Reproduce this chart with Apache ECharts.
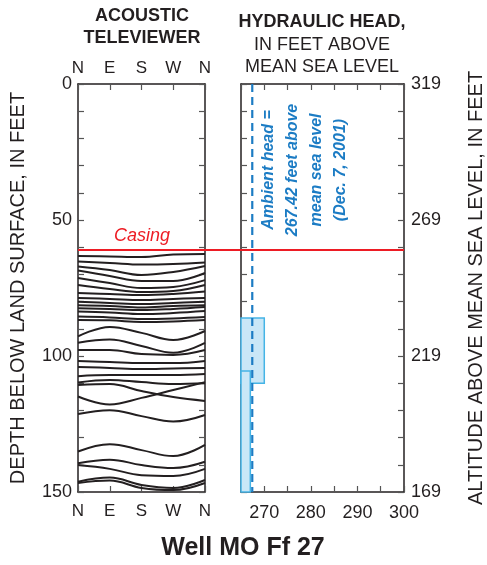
<!DOCTYPE html>
<html><head><meta charset="utf-8">
<script src="https://cdn.jsdelivr.net/npm/echarts@6/dist/echarts.min.js"></script>
<style>html,body{margin:0;padding:0;background:#fff}#c{width:487px;height:565px}</style>
</head><body><div id="c"></div>
<script>
// ---------------- data ----------------
const compassLabels = ['N', 'E', 'S', 'W', 'N'];
const azimuths = [0, 90, 180, 270, 360];
// depth (ft) of each fracture trace at N, E, S, W, N
const fractureDepths = [
  [63.2, 63.4, 63.6, 62.7, 62.5],
  [65.3, 65.8, 66.4, 66.2, 65.6],
  [67.1, 68.4, 70.2, 69.1, 66.9],
  [68.6, 70.6, 72.4, 72.4, 69.5],
  [71.3, 73.2, 75.0, 74.6, 72.1],
  [73.9, 75.4, 76.5, 76.1, 73.9],
  [76.8, 77.2, 77.6, 77.2, 76.3],
  [78.7, 79.0, 79.4, 79.0, 78.7],
  [80.1, 80.5, 80.9, 80.5, 80.1],
  [81.3, 81.6, 82.2, 81.6, 81.3],
  [82.4, 82.7, 83.1, 82.7, 82.0],
  [83.6, 84.0, 84.6, 84.2, 83.5],
  [85.5, 85.8, 86.4, 86.2, 85.7],
  [86.8, 86.9, 87.5, 87.3, 86.8],
  [92.8, 89.3, 91.5, 94.1, 90.8],
  [95.1, 93.9, 96.3, 98.8, 95.2],
  [97.8, 97.8, 99.3, 99.6, 97.8],
  [101.8, 102.2, 102.6, 102.6, 101.8],
  [104.0, 104.4, 104.8, 104.6, 104.4],
  [107.4, 107.0, 107.0, 107.0, 106.6],
  [109.7, 108.8, 109.6, 110.3, 110.0],
  [110.7, 110.3, 112.9, 115.1, 116.5],
  [114.9, 117.8, 115.4, 112.5, 109.6],
  [121.3, 119.9, 122.1, 124.1, 121.7],
  [135.1, 132.4, 134.6, 136.8, 132.7],
  [139.4, 138.1, 140.1, 141.2, 138.9],
  [140.1, 141.5, 143.8, 144.1, 141.5],
  [146.2, 144.7, 147.4, 148.5, 145.6],
  [146.7, 145.8, 148.5, 149.3, 146.7]
];
const depthLabels = [0, 50, 100, 150];
const altitudeLabels = [319, 269, 219, 169];
const headLabels = [270, 280, 290, 300];
const casingDepth = 61;
const ambientHead = 267.42;
// hydraulic-head test intervals
const intervalTop = [86, 105.5];
const intervalBottom = [110, 150];
const intervalHead = [270, 267.0];

// ---------------- chart ----------------
const FONT = '"Liberation Sans", Arial, Helvetica, sans-serif';
const INK = '#231f20';
const chart = echarts.init(document.getElementById('c'), null, {renderer: 'canvas'});

const axisLineStyle = {show: true, onZero: false, lineStyle: {color: INK, width: 1.5}};
const tickStyle = {show: true, inside: true, length: 6, lineStyle: {color: '#555', width: 1.2}};
const labelStyle = {color: INK, fontFamily: FONT, fontSize: 18};

const fractureSeries = fractureDepths.map(function (d, k) {
  return {
    type: 'line', xAxisIndex: 0, yAxisIndex: 0, name: 'fracture' + k,
    data: azimuths.map(function (a, i) { return [a, d[i]]; }),
    smooth: 0.4, symbol: 'none', silent: true, z: 3,
    lineStyle: {color: INK, width: 2}
  };
});

function compassFmt(v) { return compassLabels[Math.round(v / 90)]; }

chart.setOption({
  animation: false,
  grid: [
    {left: 78, top: 84, width: 127, height: 408},
    {left: 241, top: 84, width: 164, height: 408}
  ],
  xAxis: [
    {gridIndex: 0, type: 'value', position: 'bottom', min: 0, max: 360, interval: 90,
      axisLine: axisLineStyle, axisTick: tickStyle, splitLine: {show: false},
      axisLabel: Object.assign({}, labelStyle, {fontSize: 17, margin: 11, formatter: compassFmt})},
    {gridIndex: 0, type: 'value', position: 'top', min: 0, max: 360, interval: 90,
      axisLine: axisLineStyle, axisTick: tickStyle, splitLine: {show: false},
      axisLabel: Object.assign({}, labelStyle, {fontSize: 17, margin: 7, formatter: compassFmt})},
    {gridIndex: 1, type: 'value', position: 'bottom', min: 265, max: 300, interval: 5,
      axisLine: axisLineStyle, axisTick: tickStyle, splitLine: {show: false},
      axisLabel: Object.assign({}, labelStyle, {margin: 12,
        formatter: function (v) { return headLabels.indexOf(v) >= 0 ? String(v) : ''; }})},
    {gridIndex: 1, type: 'value', position: 'top', min: 265, max: 300, interval: 5,
      axisLine: axisLineStyle, axisTick: tickStyle, splitLine: {show: false},
      axisLabel: {show: false}}
  ],
  yAxis: [
    {gridIndex: 0, type: 'value', position: 'left', inverse: true, min: 0, max: 150, interval: 10,
      axisLine: axisLineStyle, axisTick: tickStyle, splitLine: {show: false},
      name: 'DEPTH BELOW LAND SURFACE, IN FEET', nameLocation: 'middle', nameRotate: 90, nameGap: 50,
      nameTextStyle: {color: INK, fontFamily: FONT, fontSize: 20},
      axisLabel: Object.assign({}, labelStyle, {margin: 6,
        formatter: function (v) { return depthLabels.indexOf(v) >= 0 ? String(v) : ''; }})},
    {gridIndex: 0, type: 'value', position: 'right', inverse: true, min: 0, max: 150, interval: 10,
      axisLine: axisLineStyle, axisTick: tickStyle, splitLine: {show: false}, axisLabel: {show: false}},
    {gridIndex: 1, type: 'value', position: 'left', inverse: true, min: 0, max: 150, interval: 10,
      axisLine: axisLineStyle, axisTick: tickStyle, splitLine: {show: false}, axisLabel: {show: false}},
    {gridIndex: 1, type: 'value', position: 'right', inverse: true, min: 0, max: 150, interval: 10,
      axisLine: axisLineStyle, axisTick: tickStyle, splitLine: {show: false},
      name: 'ALTITUDE ABOVE MEAN SEA LEVEL, IN FEET', nameLocation: 'middle', nameRotate: 90, nameGap: 62,
      nameTextStyle: {color: INK, fontFamily: FONT, fontSize: 20},
      axisLabel: Object.assign({}, labelStyle, {margin: 7,
        formatter: function (v) { return (v % 50 === 0) ? String(altitudeLabels[v / 50]) : ''; }})}
  ],
  series: fractureSeries.concat([
    {
      type: 'custom', xAxisIndex: 2, yAxisIndex: 2, z: 2, silent: true,
      data: intervalHead.map(function (h, i) { return [h, intervalTop[i], intervalBottom[i]]; }),
      renderItem: function (params, api) {
        const p0 = api.coord([265, api.value(1)]);
        const p1 = api.coord([api.value(0), api.value(2)]);
        return {type: 'rect',
          shape: {x: p0[0], y: p0[1], width: p1[0] - p0[0], height: p1[1] - p0[1]},
          style: {fill: '#c9e7f7', stroke: '#45b4e6', lineWidth: 1.5}};
      }
    },
    {
      type: 'line', xAxisIndex: 2, yAxisIndex: 2, z: 4, silent: true, symbol: 'none',
      data: [[ambientHead, 0], [ambientHead, 150]],
      lineStyle: {color: '#1c7cc4', width: 2.2, type: [8, 5]}
    }
  ])
});

const yCas = chart.convertToPixel({yAxisIndex: 0}, casingDepth);
const xLeft = chart.convertToPixel({xAxisIndex: 0}, 0);
const xRight = chart.convertToPixel({xAxisIndex: 2}, 300);

chart.setOption({
  graphic: [
    {type: 'text', x: 142, y: 16, style: {text: 'ACOUSTIC', font: 'bold 18px ' + FONT, fill: INK, textAlign: 'center', textVerticalAlign: 'middle'}},
    {type: 'text', x: 142, y: 38, style: {text: 'TELEVIEWER', font: 'bold 18px ' + FONT, fill: INK, textAlign: 'center', textVerticalAlign: 'middle'}},
    {type: 'text', x: 322, y: 22, style: {text: 'HYDRAULIC HEAD,', font: 'bold 18px ' + FONT, fill: INK, textAlign: 'center', textVerticalAlign: 'middle'}},
    {type: 'text', x: 322, y: 45, style: {text: 'IN FEET ABOVE', font: '18px ' + FONT, fill: INK, textAlign: 'center', textVerticalAlign: 'middle'}},
    {type: 'text', x: 322, y: 67, style: {text: 'MEAN SEA LEVEL', font: '18px ' + FONT, fill: INK, textAlign: 'center', textVerticalAlign: 'middle'}},
    {type: 'text', x: 243, y: 548, style: {text: 'Well MO Ff 27', font: 'bold 25px ' + FONT, fill: INK, textAlign: 'center', textVerticalAlign: 'middle'}},
    {type: 'text', x: 142, y: 236, style: {text: 'Casing', font: 'italic 18px ' + FONT, fill: '#ed1c24', textAlign: 'center', textVerticalAlign: 'middle'}},
    {type: 'line', z: 10, shape: {x1: xLeft, y1: yCas, x2: xRight, y2: yCas}, style: {stroke: '#ed1c24', lineWidth: 2}},
    {type: 'text', x: 305, y: 170, rotation: Math.PI / 2,
      style: {text: 'Ambient head =\n267.42 feet above\nmean sea level\n(Dec. 7, 2001)',
        font: 'italic bold 16px ' + FONT, fill: '#1c7cc4', textAlign: 'center', textVerticalAlign: 'middle', lineHeight: 24}}
  ]
});
</script>
</body></html>
